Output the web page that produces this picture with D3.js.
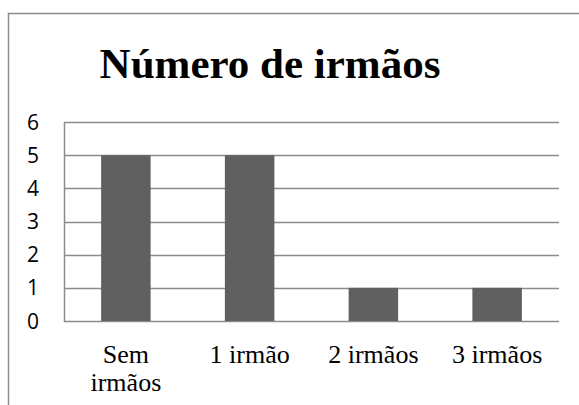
<!DOCTYPE html>
<html>
<head>
<meta charset="utf-8">
<script src="https://cdn.jsdelivr.net/npm/d3@7"></script>
<style>
  html, body { margin: 0; padding: 0; background: #fff; }
</style>
</head>
<body>
<div id="chart"></div>
<script>
const categories = ['Sem irmãos', '1 irmão', '2 irmãos', '3 irmãos'];
const values = [5, 5, 1, 1];
const yTicks = [0, 1, 2, 3, 4, 5, 6];
const title = 'Número de irmãos';

const width = 579, height = 405;
const plot = { left: 64, right: 559, top: 122, bottom: 321 };

const svg = d3.select('#chart')
  .append('svg')
  .attr('width', width)
  .attr('height', height);

// chart frame (cut off at right and bottom like the original)
svg.append('path')
  .attr('d', `M8.5,${height} L8.5,13.5 L${width},13.5`)
  .attr('fill', 'none')
  .attr('stroke', '#8c8c8c')
  .attr('stroke-width', 1.5);

svg.append('text')
  .attr('x', 270)
  .attr('y', 78)
  .attr('text-anchor', 'middle')
  .style('font-family', '"Liberation Serif", "Times New Roman", serif')
  .style('font-weight', 'bold')
  .style('font-size', '43px')
  .text(title);

const x = d3.scaleBand()
  .domain(categories)
  .range([plot.left, plot.right]);

const y = d3.scaleLinear()
  .domain([0, 6])
  .range([plot.bottom, plot.top]);

// gridlines
svg.append('g')
  .selectAll('line')
  .data(yTicks)
  .join('line')
  .attr('x1', plot.left)
  .attr('x2', plot.right)
  .attr('y1', d => Math.round(y(d)) + 0.5)
  .attr('y2', d => Math.round(y(d)) + 0.5)
  .attr('stroke', '#8c8c8c')
  .attr('stroke-width', 1.5);

// vertical axis line
svg.append('line')
  .attr('x1', plot.left + 0.5)
  .attr('x2', plot.left + 0.5)
  .attr('y1', plot.top)
  .attr('y2', plot.bottom + 1)
  .attr('stroke', '#8c8c8c')
  .attr('stroke-width', 1.5);

// y labels
svg.append('g')
  .selectAll('text')
  .data(yTicks)
  .join('text')
  .attr('x', 39)
  .attr('y', d => y(d))
  .attr('dy', '0.36em')
  .attr('text-anchor', 'end')
  .style('font-family', '"Open Sans", "Noto Sans", sans-serif')
  .style('font-size', '21px')
  .text(d => d);

// bars
const barW = x.bandwidth() * 0.4;
svg.append('g')
  .selectAll('rect')
  .data(values)
  .join('rect')
  .attr('x', (d, i) => x(categories[i]) + (x.bandwidth() - barW) / 2)
  .attr('y', d => y(d))
  .attr('width', barW)
  .attr('height', d => y(0) - y(d))
  .attr('fill', '#606060');

// x labels (wrap two-word label like the original)
const xLabels = svg.append('g')
  .selectAll('text')
  .data(categories)
  .join('text')
  .attr('x', d => x(d) + x.bandwidth() / 2)
  .attr('y', 363)
  .attr('text-anchor', 'middle')
  .style('font-family', '"Liberation Serif", "Times New Roman", serif')
  .style('font-size', '26px');

xLabels.each(function (d) {
  const t = d3.select(this);
  const lines = d === 'Sem irmãos' ? ['Sem', 'irmãos'] : [d];
  lines.forEach((ln, i) => {
    t.append('tspan')
      .attr('x', x(d) + x.bandwidth() / 2)
      .attr('dy', i === 0 ? 0 : 28)
      .text(ln);
  });
});
</script>
</body>
</html>
